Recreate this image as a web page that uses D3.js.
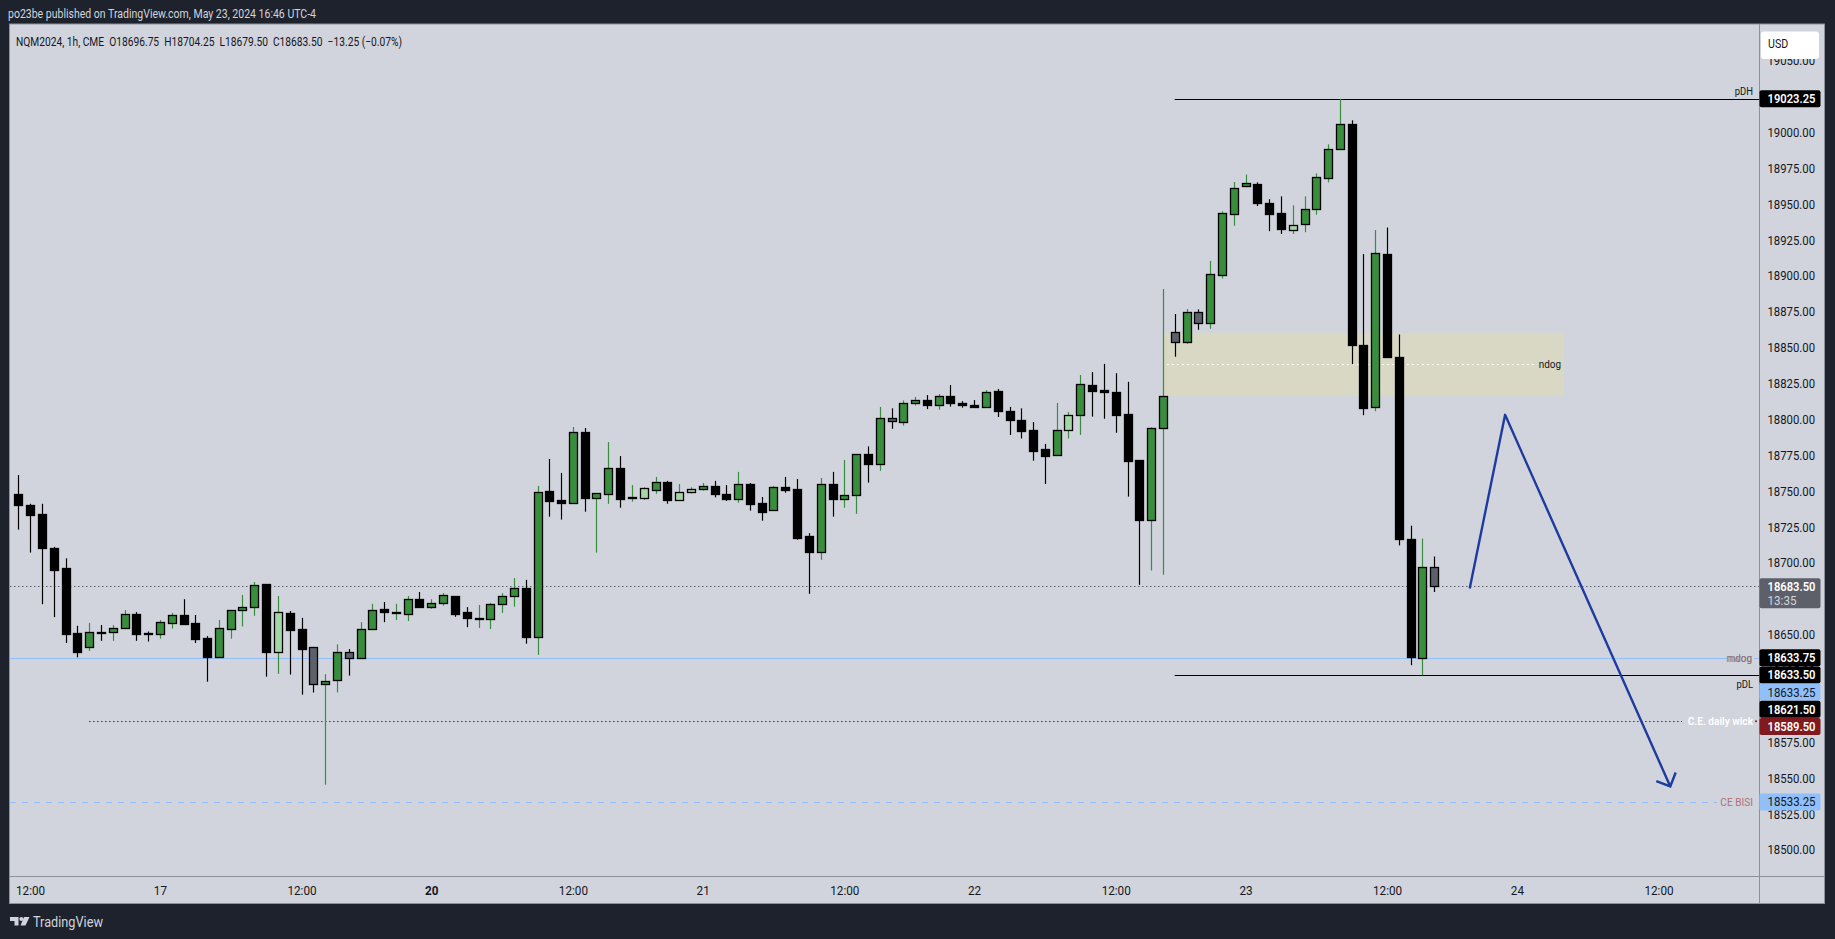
<!DOCTYPE html>
<html><head><meta charset="utf-8">
<script src="https://cdn.jsdelivr.net/npm/d3@7"></script>
<style>html,body{margin:0;padding:0;background:#1e222d;overflow:hidden}svg{display:block}text{font-family:Roboto,'Liberation Sans',sans-serif}</style>
</head><body>
<svg id="c" width="1835" height="939"></svg>
<script>
// ---------- DATA ----------
const opens = [
18748,18740.5,18734,18710,18696,18651,
18641.5,18651.5,18651.5,18654.75,18664,18651,18650.5,18658,18663.25,18658,
18647.25,18634.5,18654,18666.75,18669,
18685,18638,18665,18653.5,18641,18615.25,18618,18638,18633.25,18654,
18667.75,18665.25,18664.5,18674.5,18669.25,18671.75,18676.5,18665.5,18661,18661,
18671,18676.5,18682,18648.5,18750,18743.5,18741.75,18790.75,18745.25,18748,
18765.75,18745.25,18745.25,18750.75,18756,18743.5,18749,18751,18753.25,18747.5,
18744.5,18754.5,18741.25,18736.5,18752.5,18751,18718.25,18707.5,18754.5,18744.5,
18747,18775.5,18769,18800.5,18797.75,18811,18813,18810,18816,18811.5,
18810,18808.75,18819.5,18806,18799.25,18792.25,18779.25,18774.75,18792.5,18802.75,
18823.5,18820,18818.75,18803.25,18771.25,18729.5,18793.5,18860.5,18854,18875,
18867.25,18900.75,18943.25,18962.5,18963.75,18950.5,18943.5,18932,18936,18946.25,
18968,18988.25,19005.5,18851.75,18808.25,18915,18843.25,18716.5,18633.25,18696.75];
const highs = [
18761,18741,18741,18711,18703,18656,
18658,18656.5,18656.5,18667,18665.5,18652,18660,18665,18674.5,18663.5,
18648.75,18660,18666.75,18677.5,18686.5,
18685,18676.75,18666.25,18661.5,18641,18622.25,18643,18639.75,18658.5,18671.25,
18672.5,18671.25,18676.75,18679.5,18674.5,18678.75,18676.75,18669,18670.5,18672,
18678.75,18689.25,18688,18753.5,18772.25,18762.5,18794.5,18793.75,18748.25,18784,
18774.25,18754,18752.5,18759.75,18757,18754.75,18752.5,18755.5,18757,18754,
18763.25,18755.5,18745.75,18753.5,18759.75,18758.25,18720.5,18759,18763.25,18771.5,
18775.5,18781,18808.5,18807.5,18813,18815.5,18816.75,18817.5,18823.75,18812.5,
18813.25,18820.25,18821,18808.5,18807.5,18798,18782.75,18811.25,18805,18830.75,
18832.75,18838.5,18832,18826,18771.25,18794.25,18890.75,18873.25,18876.75,18876.5,
18910.25,18944.75,18965.25,18970.5,18965,18953.25,18955.25,18949,18955.25,18971.25,
18991.5,19023.25,19008.25,18915,18931.75,18933.5,18859,18725.75,18716.75,18704.25];
const lows = [
18723,18707,18671,18662,18644,18634,
18638.5,18645.5,18645.5,18654,18645.5,18645,18647,18654,18657.5,18644,
18617,18634.5,18647,18655.5,18663,
18620.5,18622.5,18622,18608,18609.5,18545.25,18609.5,18621.25,18633.25,18653,
18658.5,18660,18659.25,18669.25,18667.75,18670,18662.25,18655,18654.5,18653.75,
18665,18669.25,18643.5,18635.75,18732,18730,18741.75,18735.5,18707,18741,
18738.25,18742.5,18743.75,18748,18741,18743.5,18748.25,18750.25,18745.5,18743,
18741.75,18736.25,18729.25,18736.5,18748.75,18716,18678.25,18702,18732,18738.25,
18734,18755.75,18764,18793.25,18795.5,18809.5,18807,18806.5,18808.75,18808,
18808,18808.75,18801.5,18789,18786.5,18771,18754.75,18774.75,18786.5,18789,
18801.75,18800.25,18790.5,18746,18684.5,18694.5,18691.5,18843.5,18852.5,18862.25,
18863,18898,18934.75,18961.5,18948.5,18931,18929,18929,18930.25,18942.5,
18965,18987.75,18838.25,18802.75,18805.5,18843.25,18712,18628.5,18621.5,18679.5];
const closes = [
18740.5,18733,18710,18695,18650.5,18638,
18651.5,18651.25,18654.25,18664,18650.5,18650,18658.5,18663.25,18657.5,18647,
18634.5,18654.25,18666.75,18669,18684.25,
18638,18665.5,18653.25,18640,18615.25,18617.25,18638,18633.25,18653.5,18666.75,
18665.75,18665.25,18674.5,18669.25,18671.75,18677.25,18664.5,18661.5,18661.25,18671,
18676.5,18682,18648.5,18749,18743.25,18741.75,18790.75,18745.25,18748.25,18765.75,
18744.5,18745.5,18751.75,18756,18743.75,18749,18751,18753.25,18747.5,18744.5,
18754.5,18741,18735.5,18752.5,18750.5,18717.5,18707.5,18754.5,18744.5,18747,
18775.5,18769,18800.5,18798.5,18811,18813,18810,18816,18811.5,18809.5,
18808.75,18818.75,18806,18799.5,18792,18778,18774.5,18792.25,18802.75,18824.25,
18819.75,18818.75,18803,18771,18730,18793.5,18816,18854,18874.5,18867.25,
18901,18944,18961,18964.25,18950.5,18943,18932.5,18935.5,18946.5,18969,
18988.5,19005.5,18851.5,18807.5,18916,18843.25,18716.25,18634,18696.75,18683.5];
// g = green, l = light green, b = black, y = grey (bar colouring)
const kinds = [
'b','b','b','b','b','b',
'g','b','g','g','b','b','g','g','b','b',
'b','g','g','g','g',
'b','l','b','b','y','g','g','y','g','g',
'b','g','g','b','g','g','b','b','g','g',
'g','g','b','g','b','b','g','b','g','g',
'b','g','l','g','b','l','l','g','b','b',
'g','b','b','g','b','b','b','g','b','g',
'g','b','g','y','g','g','b','g','b','b',
'b','g','b','b','b','b','b','g','l','g',
'b','b','b','b','b','g','g','y','g','y',
'g','g','g','g','b','b','b','l','g','g',
'g','g','b','b','g','b','b','b','g','y'];

const priceTicks = [18500,18525,18550,18575,18600,18625,18650,18675,18700,18725,18750,18775,18800,18825,18850,18875,18900,18925,18950,18975,19000,19025,19050];
const timeTickBars = [1,12,24,35,47,58,70,81,93,104,116,127,139];
const timeTickLabels = ['12:00','17','12:00','20','12:00','21','12:00','22','12:00','23','12:00','24','12:00'];
const boldTimeLabels = ['20'];

const pdh = 19023.25, pdl = 18621.50, levelStartBar = 98;
const ndogTop = 18860.25, ndogBottom = 18816.0, ndogStartBar = 97, ndogEndBar = 131;
const mdogLevel = 18633.25;
const ceDailyWick = 18589.50, ceDailyStartBar = 6;
const ceBisi = 18533.25;
const lastPrice = 18683.50, countdown = '13:35';
const arrowBars = [123, 126, 140];
const arrowPrices = [18682, 18803, 18544];
const axisLabelValues = [19023.25, 18633.75, 18633.50, 18633.25, 18621.50, 18589.50, 18533.25];
const axisLabelKinds = ['black','black','black','blue','black','red','blue'];

const headerText = 'po23be published on TradingView.com, May 23, 2024 16:46 UTC-4';
const legendText = 'NQM2024, 1h, CME  O18696.75  H18704.25  L18679.50  C18683.50  \u221213.25 (\u22120.07%)';

// ---------- LAYOUT ----------
const svg = d3.select('#c');
const P = {l:10, t:24, r:1824, b:903, ax:1759, ay:876};
const x = d3.scaleLinear().domain([0,140]).range([18.3, 1670.3]);
const y = d3.scaleLinear().domain([18500,19050]).range([849.6, 60.4]);

const C = {bg:'#d1d4dc', frame:'#1e222d', green:'#388e3c', lgreen:'#a5d6a7', grey:'#5d606b', text:'#131722', blue:'#90bff9', red:'#801a1e', border:'#8e919a'};
const fillOf = {g:C.green, l:C.lgreen, b:'#000', y:C.grey};
const wickOf = {g:C.green, l:C.green, b:'#000', y:'#000'};

function squeeze(sel, f){ sel.each(function(){ const w=this.getComputedTextLength(); if(w>0){ d3.select(this).attr('textLength', w*f).attr('lengthAdjust','spacingAndGlyphs'); } }); }
function fitTo(sel, w){ sel.attr('textLength', w).attr('lengthAdjust','spacingAndGlyphs'); }

svg.append('rect').attr('width',1835).attr('height',939).attr('fill',C.frame);
svg.append('rect').attr('x',P.l).attr('y',P.t).attr('width',P.r-P.l).attr('height',P.b-P.t).attr('fill',C.bg);

// header
fitTo(svg.append('text').attr('x',8).attr('y',18).attr('font-size',12).attr('fill','#d1d4dc').text(headerText), 308);

const clip = svg.append('defs').append('clipPath').attr('id','pane');
clip.append('rect').attr('x',P.l).attr('y',P.t).attr('width',P.ax-P.l).attr('height',P.ay-P.t);
const g = svg.append('g').attr('clip-path','url(#pane)');

// ndog box
const nx0 = x(ndogStartBar), nx1 = x(ndogEndBar);
g.append('rect').attr('x',nx0).attr('y',y(ndogTop)).attr('width',nx1-nx0).attr('height',y(ndogBottom)-y(ndogTop)).attr('fill','#d8d8c4');
const ndogMid = (ndogTop+ndogBottom)/2;
g.append('line').attr('x1',nx0+4).attr('x2',nx1-30).attr('y1',Math.round(y(ndogMid))+0.5).attr('y2',Math.round(y(ndogMid))+0.5).attr('stroke','#ffffff').attr('stroke-dasharray','2,3');

// levels
function hline(v,x1,x2,stroke,dash,w){ const yy=Math.round(y(v))+0.5; const l=g.append('line').attr('x1',x1).attr('x2',x2).attr('y1',yy).attr('y2',yy).attr('stroke',stroke).attr('stroke-width',w||1); if(dash) l.attr('stroke-dasharray',dash); return l; }
hline(lastPrice, P.l, P.ax, '#5d606b', '1.5,2.5');
hline(mdogLevel, P.l, 1727, C.blue);
hline(mdogLevel, 1754, P.ax, C.blue);
hline(ceDailyWick, x(ceDailyStartBar), 1682, '#8b1c24', '1.5,2.5');
hline(ceBisi, P.l, 1717, C.blue, '6,6');
hline(pdh, x(levelStartBar), P.ax, '#000');
hline(pdl, x(levelStartBar), P.ax, '#000');

// candles
const bars = opens.map((o,i)=>({i, o, h:highs[i], l:lows[i], c:closes[i], k:kinds[i]}));
const cg = g.append('g');
cg.selectAll('line.w').data(bars).join('line').attr('class','w')
  .attr('x1',d=>Math.round(x(d.i))+0.5).attr('x2',d=>Math.round(x(d.i))+0.5)
  .attr('y1',d=>y(d.h)).attr('y2',d=>y(d.l)).attr('stroke',d=>wickOf[d.k]).attr('stroke-width',1.2);
cg.selectAll('rect.b').data(bars).join('rect').attr('class','b')
  .attr('x',d=>Math.round(x(d.i))-3.5).attr('width',8)
  .attr('y',d=>Math.round(y(Math.max(d.o,d.c)))+0.5)
  .attr('height',d=>Math.max(1, Math.round(y(Math.min(d.o,d.c)))-Math.round(y(Math.max(d.o,d.c)))))
  .attr('fill',d=>fillOf[d.k]).attr('stroke','#000').attr('stroke-width',1.3);

// arrow
const pts = arrowBars.map((b,i)=>[x(b), y(arrowPrices[i])]);
g.append('path').attr('d', d3.line()(pts)).attr('fill','none').attr('stroke','#1e3ca0').attr('stroke-width',2.4).attr('stroke-linejoin','round');
const [pA,pB] = [pts[1],pts[2]];
const ang = Math.atan2(pA[1]-pB[1], pA[0]-pB[0]);
const wing = s=>[pB[0]+15*Math.cos(ang+s), pB[1]+15*Math.sin(ang+s)];
g.append('path').attr('d', d3.line()([wing(Math.PI/4), pB, wing(-Math.PI/4)])).attr('fill','none').attr('stroke','#1e3ca0').attr('stroke-width',2.4);

// chart labels
function lab(t,xx,yy,fill,size,anchor,weight){ return g.append('text').attr('x',xx).attr('y',yy).attr('fill',fill).attr('font-size',size).attr('text-anchor',anchor||'end').attr('font-weight',weight||400).text(t); }
squeeze(lab('pDH',1753,y(pdh)-4,C.text,10.5),0.9);
squeeze(lab('pDL',1753,y(pdl)+13,C.text,10.5),0.9);
squeeze(lab('ndog',1561,y(ndogMid)+4,C.text,11),0.9);
squeeze(lab('mdog',1752,y(mdogLevel)+4,'#787b86',11),0.9);
squeeze(lab('nwog',1752,y(mdogLevel)+4,'#a0606a',11).attr('opacity',0.6),0.9);
squeeze(lab('C.E. daily wick',1753,y(ceDailyWick)+4,'#ffffff',11,'end',600),0.92);
g.append('circle').attr('cx',1756).attr('cy',y(ceDailyWick)).attr('r',1).attr('fill','#8b1c24');
squeeze(lab('CE BISI',1753,y(ceBisi)+4,'#b06e78',11),0.92);

// legend
fitTo(svg.append('text').attr('x',16).attr('y',46).attr('font-size',12).attr('fill',C.text).attr('xml:space','preserve').style('white-space','pre').text(legendText), 386);

// axes frame
svg.append('line').attr('x1',P.ax+0.5).attr('x2',P.ax+0.5).attr('y1',P.t).attr('y2',P.b).attr('stroke',C.border);
svg.append('line').attr('x1',P.l).attr('x2',P.r).attr('y1',P.ay+0.5).attr('y2',P.ay+0.5).attr('stroke',C.border);
svg.append('rect').attr('x',P.l-0.5).attr('y',P.t).attr('width',P.r-P.l+1).attr('height',P.b-P.t+0.5).attr('fill','none').attr('stroke',C.border);

// price axis
const yAxis = svg.append('g').attr('transform',`translate(${P.ax},0)`)
  .call(d3.axisRight(y).tickValues(priceTicks).tickFormat(d3.format('.2f')).tickSize(0).tickPadding(8.5));
yAxis.select('.domain').remove();
yAxis.selectAll('text').attr('font-size',13.5).attr('fill',C.text).attr('font-family',"Roboto,'Liberation Sans',sans-serif");
fitTo(yAxis.selectAll('text'), 47.5);

// time axis
const xAxis = svg.append('g').attr('transform',`translate(0,${P.ay})`)
  .call(d3.axisBottom(x).tickValues(timeTickBars).tickFormat((d,i)=>timeTickLabels[i]).tickSize(0).tickPadding(9.5));
xAxis.select('.domain').remove();
xAxis.selectAll('text').attr('font-size',13).attr('fill',C.text).attr('font-family',"Roboto,'Liberation Sans',sans-serif")
  .attr('font-weight',(d,i)=>boldTimeLabels.includes(timeTickLabels[i])?700:400);
squeeze(xAxis.selectAll('text'),0.9);

// price axis labels
const ax = svg.append('g');
const bgOf = {black:'#000', blue:C.blue, red:C.red};
const fgOf = {black:'#fff', blue:C.text, red:'#fff'};
let prev = -1e9;
const placed = axisLabelValues.map((v,i)=>({v,k:axisLabelKinds[i]})).sort((a,b)=>b.v-a.v).map(d=>{ let yy=y(d.v); if(yy<prev+17.2) yy=prev+17.2; prev=yy; return {...d, yy}; });
placed.forEach(d=>{
  ax.append('rect').attr('x',P.ax+0.5).attr('y',d.yy-8.5).attr('width',61).attr('height',17).attr('rx',2).attr('fill',bgOf[d.k]);
  fitTo(ax.append('text').attr('x',1767.5).attr('y',d.yy+4.5).attr('font-size',12.5).attr('font-weight',d.k==='blue'?400:600).attr('fill',fgOf[d.k]).text(d3.format('.2f')(d.v)),48);
});
// last price with countdown
const ly = y(lastPrice);
ax.append('rect').attr('x',P.ax+0.5).attr('y',ly-8).attr('width',61).attr('height',30).attr('rx',2).attr('fill',C.grey);
fitTo(ax.append('text').attr('x',1767.5).attr('y',ly+4.5).attr('font-size',12.5).attr('font-weight',600).attr('fill','#fff').text(d3.format('.2f')(lastPrice)),48);
fitTo(ax.append('text').attr('x',1767.5).attr('y',ly+18.5).attr('font-size',12).attr('fill','#d1d4dc').text(countdown),29);

// USD box
svg.append('rect').attr('x',1761).attr('y',31.5).attr('width',58).attr('height',27.5).attr('rx',3).attr('fill','#ffffff');
squeeze(svg.append('text').attr('x',1768).attr('y',48).attr('font-size',12.5).attr('fill',C.text).text('USD'),0.85);

// footer logo
const logo = svg.append('g').attr('fill','#d1d4dc');
logo.append('path').attr('d','M10,917 h8.5 v8.5 h-4 v-4.5 h-4.5 z');
logo.append('circle').attr('cx',21.3).attr('cy',919).attr('r',2);
logo.append('path').attr('d','M24,917 h5.5 l-4,8.5 h-5 z');
fitTo(svg.append('text').attr('x',33).attr('y',926.5).attr('font-size',14).attr('fill','#d1d4dc').text('TradingView'),70);
</script>
</body></html>
